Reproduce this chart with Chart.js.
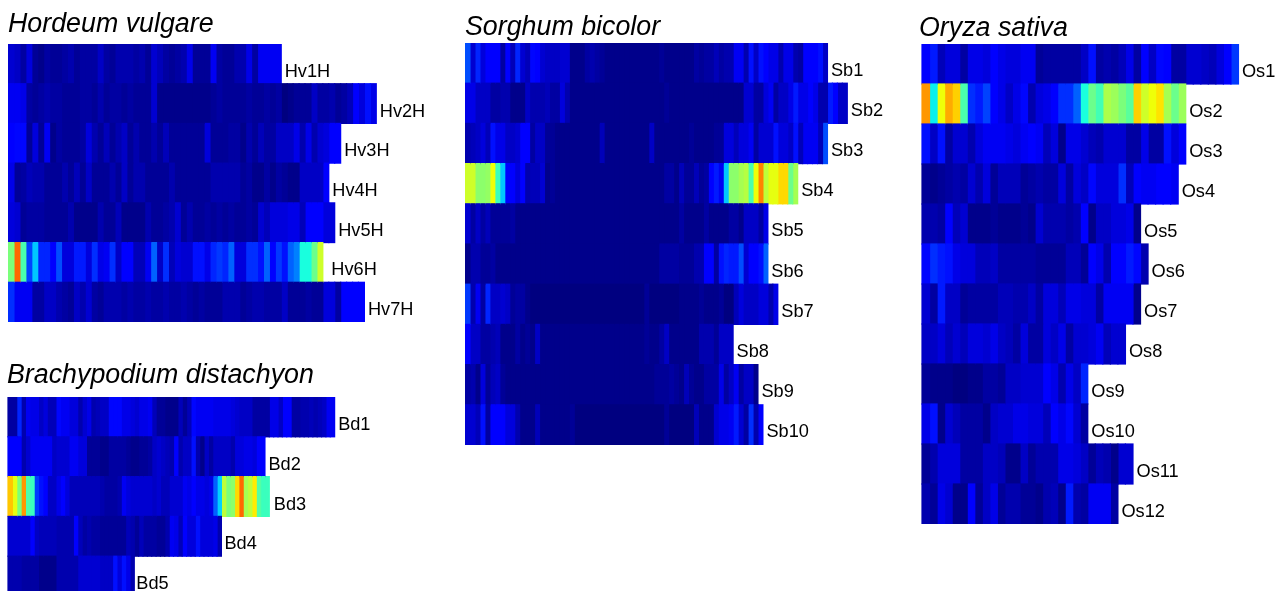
<!DOCTYPE html>
<html>
<head>
<meta charset="utf-8">
<style>
	html, body { margin: 0; background: #fff; overflow: hidden; height: 591px; }
	canvas { position: absolute; }
</style>
<script src="https://cdn.jsdelivr.net/npm/chart.js@4"></script>
</head>
<body>
<canvas id="hv"></canvas>
<canvas id="bd"></canvas>
<canvas id="sb"></canvas>
<canvas id="os"></canvas>
<script>
// density per bin, on a 0-100 scale that runs through the jet colour map
const hv_labels = ['Hv1H', 'Hv2H', 'Hv3H', 'Hv4H', 'Hv5H', 'Hv6H', 'Hv7H']
const hv1 = [7,6,3,8,2,1,3,2,2,3,4,2,3,3,3,6,3,2,4,4,4,3,4,2,7,5,3,2,3,4,9,2,2,2,10,3,2,2,4,4,9,3,10,10,10,10]
const hv2 = [10,10,9,3,2,3,4,3,3,2,2,2,3,3,2,4,2,3,3,2,3,2,2,2,7,1,1,1,1,1,1,1,1,1,2,3,2,2,2,2,3,2,2,3,2,3,0,1,2,2,2,6,3,3,4,2,3,5,11,8,14,9]
const hv3 = [12,13,13,2,8,2,10,1,3,2,2,2,3,8,4,2,5,2,4,6,2,4,2,2,4,2,5,2,2,2,2,2,2,8,2,2,2,3,3,1,4,2,5,3,3,6,6,6,9,4,9,4,7,8,11,11]
const hv4 = [9,2,3,5,4,4,2,2,2,4,2,5,2,6,2,2,2,4,2,6,2,4,4,2,2,2,2,4,2,2,2,2,2,2,4,4,4,4,4,2,3,1,1,3,1,3,2,1,1,6,6,6,6,11]
const hv5 = [8,7,2,3,3,3,2,2,2,2,4,1,1,1,1,4,2,2,5,1,1,1,1,4,2,2,3,4,7,2,4,2,2,3,2,3,2,3,2,2,3,2,7,5,8,8,8,9,9,5,11,11,11,8,8]
const hv6 = [50,80,44,19,32,16,16,11,20,8,8,15,15,8,17,9,10,17,6,11,11,5,5,10,22,6,17,5,8,7,7,14,14,9,16,18,16,22,8,8,17,17,14,22,11,18,14,22,25,38,38,48,60]
const hv7 = [17,10,10,10,3,3,6,6,4,3,2,6,4,7,3,2,4,4,4,3,4,3,3,4,3,3,4,3,3,4,3,2,3,2,2,2,4,4,4,2,3,4,4,3,3,3,6,2,2,2,3,2,2,8,8,3,11,11,11,11]

const bd_labels = ['Bd1', 'Bd2', 'Bd3', 'Bd4', 'Bd5']
const bd1 = [3,3,16,4,10,9,9,6,8,5,5,13,10,10,8,8,4,7,9,4,5,6,6,13,13,13,9,9,8,7,9,9,10,5,2,2,1,1,1,5,2,5,13,10,10,10,10,9,9,9,9,8,7,6,6,6,3,3,3,3,9,9,6,11,11,3,3,4,4,5,4,5,6,10,10]
const bd2 = [11,11,11,4,7,10,10,10,10,10,6,7,7,7,10,10,8,8,2,2,2,1,1,3,3,3,3,2,1,1,2,2,3,6,7,6,5,4,11,4,6,6,14,4,1,6,3,6,6,6,6,4,8,8,9,9,8,11,11]
const bd3 = [70,63,50,75,44,42,18,14,12,6,6,9,11,8,5,5,5,5,5,5,5,4,3,3,3,4,10,8,7,7,7,7,7,6,7,5,5,7,7,7,10,9,11,9,9,8,9,22,33,58,50,52,68,80,55,58,66,45,42,42]
const bd4 = [7,7,7,7,7,12,6,5,5,5,5,4,4,4,4,11,5,3,4,3,3,2,2,2,2,2,2,5,4,2,5,3,3,3,2,2,4,10,9,5,11,8,8,14,8,8,8,9,4]
const bd5 = [4,4,4,3,3,3,3,1,1,1,1,4,4,4,4,4,7,7,7,7,7,6,6,6,14,8,14,9,4]

const sb_labels = ['Sb1', 'Sb2', 'Sb3', 'Sb4', 'Sb5', 'Sb6', 'Sb7', 'Sb8', 'Sb9', 'Sb10']
const sb1 = [20,7,16,8,11,11,12,3,11,5,16,7,5,13,12,7,6,6,6,7,7,1,1,1,3,4,3,2,1,1,1,1,1,1,1,1,1,1,1,2,1,1,1,1,1,1,3,2,3,3,5,3,4,4,10,10,4,14,6,14,11,9,9,4,9,9,4,3,11,11,11,14,6]
const sb2 = [9,9,6,6,6,3,3,4,4,1,1,1,6,4,4,4,5,3,3,8,4,1,1,1,1,1,1,1,1,1,1,1,1,1,1,1,1,1,1,1,2,1,1,1,1,1,1,1,1,1,1,1,1,1,1,1,7,7,3,3,8,10,3,6,6,9,15,9,9,11,9,4,4,15,11,6,6]
const sb3 = [4,5,6,8,5,14,9,9,6,6,7,11,11,3,6,6,2,2,1,1,1,1,1,1,1,1,1,5,1,1,1,1,1,1,1,1,1,6,1,1,1,1,1,1,1,2,1,1,1,1,2,2,8,8,5,8,8,10,3,7,7,7,14,8,8,6,14,5,10,10,10,5,20]
const sb4 = [60,60,52,52,53,64,42,32,11,11,8,11,4,5,5,7,1,2,1,1,1,1,1,1,1,1,1,1,1,1,1,1,1,1,1,1,1,1,1,1,3,3,1,5,2,2,5,2,3,12,15,10,32,52,52,55,57,44,64,77,58,63,63,68,68,48,55]
const sb5 = [7,3,6,3,5,2,2,2,2,3,1,1,1,1,1,1,1,1,1,1,1,1,1,1,1,1,1,1,1,1,1,1,1,1,1,1,1,1,1,1,1,1,1,3,1,1,1,1,3,1,1,1,1,3,3,1,6,6,6,3,9]
const sb6 = [1,4,4,2,2,3,1,1,1,1,1,1,1,1,1,1,1,1,1,1,1,1,1,1,1,1,1,1,1,1,1,1,1,1,1,1,1,1,1,3,3,3,3,2,2,2,4,4,11,11,3,14,16,15,15,20,7,11,11,14,22]
const sb7 = [18,4,10,3,16,6,6,7,6,2,3,3,1,0,0,0,0,0,0,0,0,0,0,0,0,0,0,0,0,0,0,0,0,0,0,0,2,0,0,0,0,0,0,1,1,1,1,2,1,1,1,2,0,0,5,8,6,6,6,8,8,4,9]
const sb8 = [11,6,6,3,3,4,5,1,1,1,3,1,2,1,6,1,1,1,1,1,1,1,1,1,1,1,1,1,1,1,1,1,1,1,1,1,2,1,1,3,6,1,1,1,1,1,1,4,4,4,2,6,6,6]
const sb9 = [3,4,1,8,2,5,6,2,1,1,1,1,1,1,1,1,1,1,1,1,1,1,1,1,1,1,1,1,1,1,1,1,1,1,1,1,1,1,2,2,2,3,2,1,5,2,1,1,3,3,3,9,3,6,10,3,6,6,1]
const sb10 = [7,7,5,14,3,11,11,11,8,8,4,1,1,1,5,1,1,1,1,1,1,2,0,0,0,0,0,0,0,0,0,0,0,0,0,0,0,0,0,0,2,0,0,0,0,0,5,1,1,1,7,9,9,10,15,7,3,17,4,11]

const os_labels = ['Os1', 'Os2', 'Os3', 'Os4', 'Os5', 'Os6', 'Os7', 'Os8', 'Os9', 'Os10', 'Os11', 'Os12']
const os1 = [11,15,5,8,8,3,9,9,8,11,9,8,8,10,10,2,3,3,3,3,3,6,14,3,4,3,5,9,3,11,6,13,11,3,3,7,7,6,5,8,12,18]
const os2 = [75,36,64,73,69,44,17,15,19,11,9,6,9,13,4,8,9,11,17,17,22,38,48,43,56,54,50,46,69,60,64,67,55,48,54]
const os3 = [14,6,14,3,7,7,4,8,10,10,10,9,8,10,11,10,5,8,1,9,9,7,5,4,7,7,7,3,3,9,3,3,14,8,11]
const os4 = [2,1,2,3,4,3,7,4,8,2,5,5,5,2,3,4,3,3,8,3,8,6,13,8,8,8,17,5,12,10,10,11,11,10]
const os5 = [4,4,3,11,5,7,1,1,1,2,1,1,1,2,1,7,4,4,4,3,4,11,1,6,6,8,8,9,1]
const os6 = [13,17,15,14,9,8,8,5,5,6,3,3,3,3,3,2,2,2,2,5,5,2,12,9,4,11,11,15,13,4]
const os7 = [7,3,15,6,6,2,3,3,3,3,5,5,4,4,6,3,8,8,5,9,9,8,8,3,10,10,10,10,1]
const os8 = [6,6,8,5,7,5,8,8,7,9,6,5,3,8,3,3,8,6,9,3,7,7,8,10,5,7,7]
const os9 = [2,1,1,1,0,0,1,1,3,3,2,6,6,7,7,7,11,9,4,9,6,16]
const os10 = [9,14,1,7,5,3,3,3,1,6,7,7,9,9,8,8,5,12,9,13,7,3]
const os11 = [2,4,8,8,8,3,3,3,6,6,5,1,1,6,2,4,4,4,9,9,8,6,2,5,4,1,7,7]
const os12 = [4,2,9,7,1,1,11,2,6,9,2,4,4,2,2,1,4,5,1,15,4,3,10,10,10,3]

function lerp (a, b, t) {
	return a + (b - a) * t
}

// piecewise jet, same stops as matplotlib
function channel (stops, v) {
	for (let i = 1; i < stops.length; i++) {
		if (v <= stops[i][0]) {
			const [ x0, y0 ] = stops[i - 1]
			const [ x1, y1 ] = stops[i]
			return lerp(y0, y1, (v - x0) / (x1 - x0))
		}
	}
	return stops[stops.length - 1][1]
}

const JET_R = [[0, 0], [0.35, 0], [0.66, 1], [0.89, 1], [1, 0.5]]
const JET_G = [[0, 0], [0.125, 0], [0.375, 1], [0.64, 1], [0.91, 0], [1, 0]]
const JET_B = [[0, 0.5], [0.11, 1], [0.34, 1], [0.65, 0], [1, 0]]

function jet (level) {
	const v = level / 100
	const r = Math.round(channel(JET_R, v) * 255)
	const g = Math.round(channel(JET_G, v) * 255)
	const b = Math.round(channel(JET_B, v) * 255)
	return `rgb(${r}, ${g}, ${b})`
}

const end_labels = {
	id: 'end_labels',
	afterDatasetsDraw (chart, _, opts) {
		const { ctx, scales } = chart
		ctx.save()
		ctx.font = '18.2px "Liberation Sans"'
		ctx.fillStyle = '#000'
		ctx.textBaseline = 'middle'
		opts.labels.forEach(function (label, idx) {
			const shift = opts.shift[idx] || 0
			const x = scales.x.getPixelForValue(opts.lengths[idx]) + opts.gap + shift
			const y = scales.y.getPixelForValue(idx) + opts.drop
			ctx.fillText(label, x, y)
		})
		ctx.restore()
	},
}

function panel ({ id, title, labels, rows, left, top, inset, cell, area_height, title_gap, width, drop, shift }) {
	const canvas = document.getElementById(id)
	const title_height = 32 + title_gap
	canvas.width = width
	canvas.height = title_height + area_height
	canvas.style.left = left + 'px'
	canvas.style.top = (top - title_height) + 'px'

	const lengths = rows.map(row => row.length)
	const bins = Math.max(...lengths)
	const datasets = new Array(bins).fill(null).map(function (_, k) {
		return {
			data: rows.map(row => (k < row.length ? 1 : null)),
			backgroundColor: rows.map(row => jet(k < row.length ? row[k] : 0)),
			borderWidth: 0,
			// cells overlap a little so no white shows at fractional edges
			inflateAmount: 0.6,
			categoryPercentage: 1,
			barPercentage: 1,
		}
	})

	new Chart(canvas, {
		type: 'bar',
		data: { labels, datasets },
		plugins: [ end_labels ],
		options: {
			indexAxis: 'y',
			responsive: false,
			animation: false,
			events: [],
			layout: { padding: 0 },
			scales: {
				x: { display: false, stacked: true, min: -inset / cell, max: (width - inset) / cell },
				y: { display: false, stacked: true },
			},
			plugins: {
				legend: { display: false },
				tooltip: { enabled: false },
				title: {
					display: true,
					text: title,
					align: 'start',
					color: '#000',
					font: { family: 'Liberation Sans', style: 'italic', weight: 'normal', size: 26.8, lineHeight: '32px' },
					padding: { top: 0, bottom: title_gap },
				},
				end_labels: { labels, lengths, gap: 3.5, drop, shift },
			},
		},
	})
}

panel({
	id: 'hv', title: 'Hordeum vulgare', labels: hv_labels,
	rows: [ hv1, hv2, hv3, hv4, hv5, hv6, hv7 ],
	left: 8, top: 44, inset: 0, cell: 5.94, area_height: 278, title_gap: 3, width: 440,
	drop: 8, shift: { 5: 5 },
})
panel({
	id: 'bd', title: 'Brachypodium distachyon', labels: bd_labels,
	rows: [ bd1, bd2, bd3, bd4, bd5 ],
	left: 7, top: 397, inset: 1, cell: 4.355, area_height: 199, title_gap: 5, width: 440,
	drop: 8, shift: { 2: 1, 3: -0.5, 4: -1.5 },
})
panel({
	id: 'sb', title: 'Sorghum bicolor', labels: sb_labels,
	rows: [ sb1, sb2, sb3, sb4, sb5, sb6, sb7, sb8, sb9, sb10 ],
	left: 465, top: 43, inset: 0, cell: 4.965, area_height: 402, title_gap: -1, width: 440,
	drop: 7.5, shift: {},
})
panel({
	id: 'os', title: 'Oryza sativa', labels: os_labels,
	rows: [ os1, os2, os3, os4, os5, os6, os7, os8, os9, os10, os11, os12 ],
	left: 919, top: 44, inset: 3, cell: 7.535, area_height: 480, title_gap: -1, width: 357,
	drop: 8, shift: {},
})
</script>
</body>
</html>
